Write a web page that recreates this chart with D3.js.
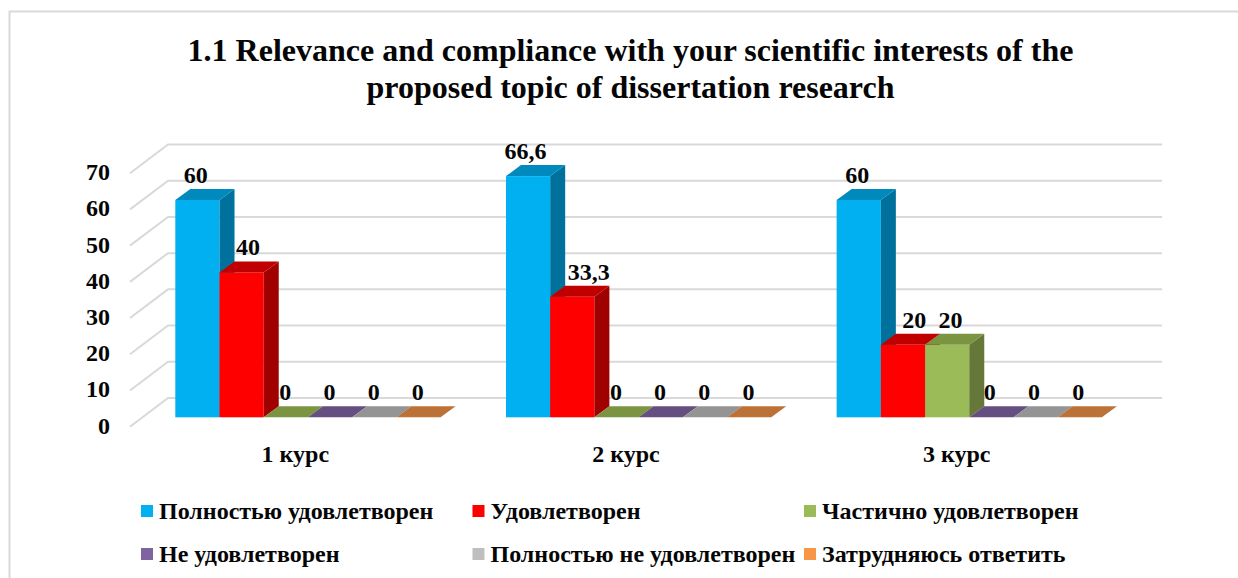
<!DOCTYPE html>
<html>
<head>
  <meta charset="utf-8">
  <script src="https://d3js.org/d3.v7.min.js"></script>
  <style>
  html, body {
    margin: 0;
    background: #fff;
  }
  svg {
    display: block;
  }
  text {
    font-family: "Liberation Serif", serif;
    font-weight: bold;
    fill: #050505;
  }
  .grid {
    fill: none;
    stroke: #d9d9d9;
    stroke-width: 2px;
  }
  </style>
</head>
<body>
  <svg id="chart" width="1238" height="578"></svg>
  <script>
  var title = ["1.1 Relevance and compliance with your scientific interests of the", "proposed topic of dissertation research"];
  var courses = ["1 курс", "2 курс", "3 курс"];
  var answers = ["Полностью удовлетворен", "Удовлетворен", "Частично удовлетворен", "Не удовлетворен", "Полностью не удовлетворен", "Затрудняюсь ответить"];
  var ticks = [0, 10, 20, 30, 40, 50, 60, 70];

  var polnostyu = [60, 66.6, 60];
  var udovletvoren = [40, 33.3, 20];
  var chastichno = [0, 0, 20];
  var ne_udovletvoren = [0, 0, 0];
  var polnostyu_ne = [0, 0, 0];
  var zatrudnyayus = [0, 0, 0];
  var series = [polnostyu, udovletvoren, chastichno, ne_udovletvoren, polnostyu_ne, zatrudnyayus];

  var front_colors = ["#00b0f0", "#ff0000", "#9bbb59", "#8064a2", "#bfbfbf", "#f79646"];
  var top_colors = ["#0089bc", "#c00000", "#7a9442", "#654e80", "#949494", "#bc7236"];
  var side_colors = ["#00719c", "#a00000", "#65783a", "#544269", "#7b7b7b", "#9c5f2d"];

  // the labels were moved by hand in the original, one row per course
  var label_nudge = [[-1, 7, 0, 0, 0, 0], [-2, 17, 0, 0, 0, 0], [-1, 12, 4, -1, -1, -1]];

  var svg = d3.select("#chart");

  svg.append("rect")
      .attr("x", 9.5)
      .attr("y", 11.5)
      .attr("width", 1300)
      .attr("height", 700)
      .attr("fill", "none")
      .attr("stroke", "#d9d9d9")
      .attr("stroke-width", 2);

  svg.selectAll("text.title")
      .data(title)
    .enter().append("text")
      .attr("class", "title")
      .attr("x", 630.5)
      .attr("y", function(d, i){ return 61 + i * 37; })
      .attr("text-anchor", "middle")
      .style("font-size", "32px")
      .text(function(d){ return d; });

  // plot box: front edge of the floor, and how far back the wall sits
  var left = 130, right = 1122, floor_y = 426.7;
  var wall = {dx: 38, dy: -28.7};
  var bar_plane = {dx: 12.6, dy: -9.4};
  var bar_depth = {dx: 15, dy: -11};

  var x = d3.scaleBand().domain(courses).range([left, right]);
  var x_inner = d3.scaleBand().domain(d3.range(answers.length)).range([0, x.bandwidth()]).paddingOuter(0.74);
  var y = d3.scaleLinear().domain([0, 70]).range([floor_y, floor_y - 253.5]);

  var grid = svg.append("g");
  ticks.forEach(function(t){
    grid.append("path")
        .attr("class", "grid")
        .attr("d", d3.line()([
          [left, y(t)],
          [left + wall.dx, y(t) + wall.dy],
          [right + wall.dx + 2, y(t) + wall.dy]
        ]));
  });

  svg.selectAll("text.tick")
      .data(ticks)
    .enter().append("text")
      .attr("class", "tick")
      .attr("x", 110)
      .attr("y", function(d){ return y(d) + 7; })
      .attr("text-anchor", "end")
      .style("font-size", "24px")
      .text(function(d){ return d; });

  var bars = svg.append("g").attr("transform", "translate(" + bar_plane.dx + "," + bar_plane.dy + ")");
  var labels = svg.append("g").attr("transform", "translate(" + (bar_plane.dx - 0.6) + "," + bar_plane.dy + ")");
  var fmt = function(v){ return String(v).replace(".", ","); };

  courses.forEach(function(course, c){
    series.forEach(function(values, s){
      var v = values[c];
      var x0 = x(course) + x_inner(s), x1 = x0 + x_inner.bandwidth();
      var y0 = y(0), y1 = y(v);
      var dx = bar_depth.dx, dy = bar_depth.dy;

      if (v > 0) {
        bars.append("rect")
            .attr("x", x0)
            .attr("y", y1)
            .attr("width", x1 - x0)
            .attr("height", y0 - y1)
            .attr("fill", front_colors[s]);
        bars.append("path")
            .attr("d", d3.line()([[x1, y1], [x1 + dx, y1 + dy], [x1 + dx, y0 + dy], [x1, y0]]) + "Z")
            .attr("fill", side_colors[s]);
      }
      bars.append("path")
          .attr("d", d3.line()([[x0, y1], [x0 + dx, y1 + dy], [x1 + dx, y1 + dy], [x1, y1]]) + "Z")
          .attr("fill", top_colors[s]);

      labels.append("text")
          .attr("x", (x0 + x1) / 2 + label_nudge[c][s])
          .attr("y", y1 - 17)
          .attr("text-anchor", "middle")
          .style("font-size", "24px")
          .text(fmt(v));
    });
  });

  svg.selectAll("text.course")
      .data(courses)
    .enter().append("text")
      .attr("class", "course")
      .attr("x", function(d){ return x(d) + x.bandwidth() / 2; })
      .attr("y", 462)
      .attr("text-anchor", "middle")
      .style("font-size", "24px")
      .text(function(d){ return d; });

  var legend_x = d3.scalePoint().domain([0, 1, 2]).range([141, 804]);
  var legend_y = d3.scalePoint().domain([0, 1]).range([505, 548]);

  var legend = svg.selectAll("g.legend")
      .data(answers)
    .enter().append("g")
      .attr("class", "legend")
      .attr("transform", function(d, i){ return "translate(" + legend_x(i % 3) + "," + legend_y(Math.floor(i / 3)) + ")"; });

  legend.append("rect")
      .attr("width", 12)
      .attr("height", 12)
      .attr("fill", function(d, i){ return front_colors[i]; });

  legend.append("text")
      .attr("x", 18)
      .attr("y", 14)
      .style("font-size", "24px")
      .text(function(d){ return d; });
  </script>
</body>
</html>
